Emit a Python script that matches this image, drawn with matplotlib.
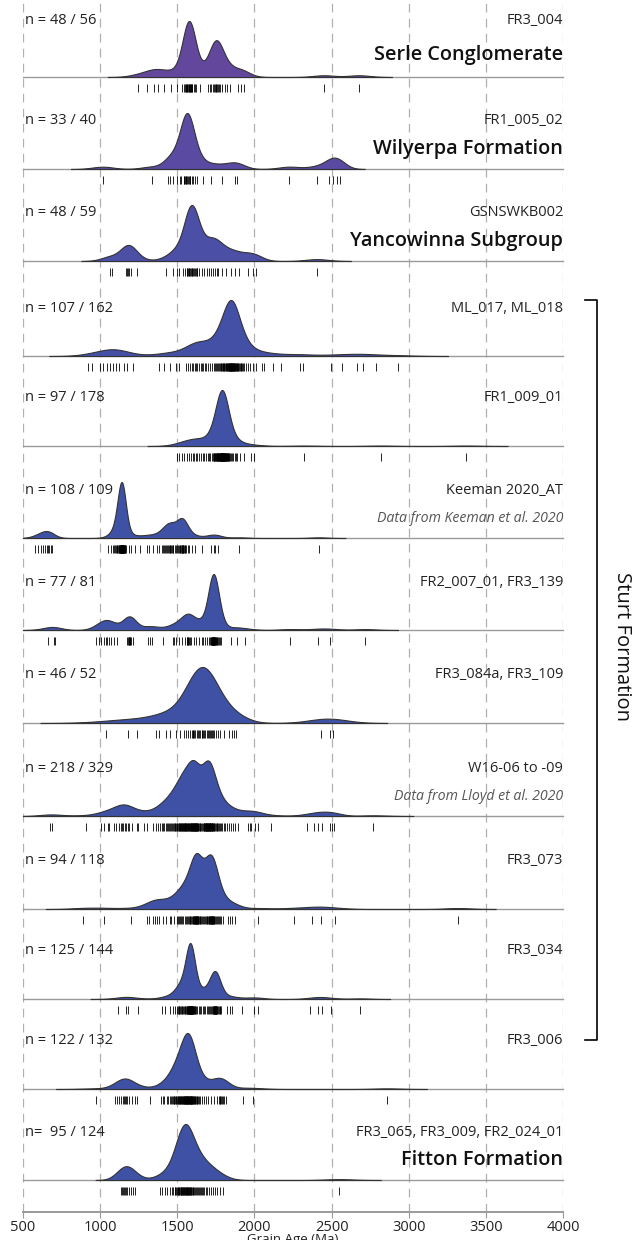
import numpy as np
import matplotlib.pyplot as plt
from matplotlib.lines import Line2D

plt.rcParams["font.family"] = ["Open Sans", "DejaVu Sans"]

# grain ages (Ma)
serle = [1245, 1306, 1350, 1372, 1413, 1460, 1500, 1530, 1541, 1550, 1556, 1559,
         1563, 1566, 1570, 1574, 1577, 1580, 1584, 1587, 1590, 1593, 1598, 1607,
         1615, 1623, 1650, 1700, 1710, 1721, 1732, 1740, 1744, 1750, 1753, 1758,
         1764, 1770, 1776, 1792, 1810, 1821, 1844, 1896, 1912, 1935, 2450, 2678]
wilyerpa = [1017, 1336, 1443, 1452, 1472, 1500, 1516, 1525, 1541, 1546, 1550,
            1554, 1557, 1566, 1570, 1575, 1580, 1584, 1593, 1602, 1615, 1629,
            1668, 1720, 1793, 1875, 1889, 2226, 2408, 2486, 2511, 2536, 2556]
yancowinna = [1062, 1078, 1167, 1175, 1179, 1190, 1200, 1242, 1427, 1472, 1495,
              1509, 1534, 1552, 1560, 1565, 1570, 1575, 1579, 1584, 1588, 1593,
              1598, 1603, 1609, 1614, 1620, 1625, 1630, 1639, 1657, 1673, 1691,
              1707, 1720, 1734, 1746, 1755, 1766, 1793, 1816, 1848, 1871, 1898,
              1960, 1991, 2007, 2404]
ml_017 = [924, 946, 999, 1017, 1046, 1067, 1083, 1103, 1119, 1156, 1172, 1210,
          1383, 1411, 1456, 1490, 1513,
          1559, 1570, 1582, 1593, 1604, 1615, 1620, 1625, 1640, 1652, 1660, 1666,
          1680, 1689, 1700, 1714, 1725, 1735, 1745, 1752, 1760, 1766, 1771, 1776,
          1781, 1786, 1790, 1794, 1798, 1802, 1806, 1810, 1814, 1818, 1821, 1824,
          1827, 1830, 1833, 1835, 1836, 1839, 1840, 1842, 1845, 1845, 1848, 1850,
          1851, 1854, 1855, 1857, 1860, 1860, 1863, 1865, 1866, 1869, 1872, 1875,
          1878, 1881, 1884, 1888, 1892, 1896, 1900, 1905, 1910, 1916, 1922, 1928,
          1934, 1945, 1957, 1973, 1990, 2007, 2048, 2064, 2121, 2169, 2294, 2315,
          2499, 2567, 2663, 2704, 2791, 2932]
fr1_009 = [1500, 1513, 1529, 1543, 1561, 1579, 1590, 1600, 1610, 1620, 1630, 1640,
           1652, 1664, 1676, 1688, 1698, 1707, 1715, 1722, 1729, 1735, 1740, 1741,
           1745, 1746, 1750, 1751, 1755, 1758, 1759, 1760, 1763, 1765, 1767, 1770,
           1772, 1773, 1775, 1776, 1778, 1779, 1780, 1781, 1782, 1783, 1784, 1785,
           1786, 1787, 1788, 1789, 1790, 1791, 1792, 1793, 1794, 1795, 1796, 1797,
           1798, 1799, 1800, 1801, 1802, 1803, 1805, 1806, 1808, 1809, 1811, 1812,
           1814, 1815, 1817, 1820, 1822, 1824, 1826, 1828, 1830, 1832, 1837, 1842,
           1848, 1855, 1863, 1871, 1880, 1889, 1907, 1935, 1975, 1998, 2322, 2818,
           3369]
keeman = [580, 598, 614, 630, 643, 655, 662, 671, 682, 691,
          1053, 1069, 1083, 1090,
          1097, 1103, 1108, 1112, 1116, 1119, 1122, 1125, 1127, 1129, 1130, 1131,
          1132, 1133, 1134, 1135, 1136, 1137, 1138, 1139, 1139, 1140, 1141, 1141,
          1142, 1143, 1143, 1144, 1145, 1145, 1146, 1147, 1148, 1149, 1150, 1152,
          1154, 1156, 1158, 1161, 1164, 1169,
          1185, 1201, 1224, 1260, 1301, 1315, 1340,
          1370, 1383, 1399, 1410, 1415, 1422, 1429, 1435, 1440, 1445, 1450, 1452,
          1458, 1463, 1470, 1475, 1486, 1490, 1497, 1505, 1509, 1515, 1520, 1525,
          1528, 1530, 1532, 1536, 1538, 1540, 1545, 1548, 1553, 1559, 1568, 1579,
          1593, 1616, 1661, 1720, 1736, 1745, 1764, 1900, 2417]
fr2_007 = [659, 698, 705, 974, 992, 1008, 1024, 1035, 1046, 1058, 1069, 1087, 1110,
           1174, 1182, 1185, 1188, 1190, 1192, 1196, 1202, 1210, 1308, 1320, 1333,
           1406, 1470, 1479, 1493, 1513, 1532, 1548, 1561, 1565, 1568, 1572, 1575,
           1580, 1586, 1609, 1620, 1643, 1657, 1666, 1680, 1695, 1705, 1712, 1718,
           1720, 1722, 1725, 1726, 1728, 1729, 1730, 1731, 1732, 1733, 1734, 1735,
           1736, 1737, 1738, 1740, 1741, 1743, 1744, 1746, 1748, 1750, 1755, 1760,
           1766, 1772, 1778, 1784, 1850, 1884, 1939, 2230, 2413, 2490, 2718]
fr3_084a = [1037, 1179, 1242, 1363, 1381, 1427, 1456, 1493, 1520, 1545, 1559, 1570,
            1582, 1593, 1600, 1604, 1610, 1616, 1627, 1635, 1642, 1650, 1658, 1660,
            1666, 1672, 1677, 1690, 1700, 1707, 1712, 1718, 1724, 1730, 1741, 1752,
            1766, 1775, 1800, 1834, 1853, 1868, 1882, 2431, 2488, 2508]
w16 = [678, 689, 910, 1006, 1024, 1051, 1060, 1092, 1106, 1119, 1133, 1144, 1150,
       1160, 1170, 1180, 1190, 1206, 1238, 1247, 1286, 1302, 1343, 1365, 1374,
       1388, 1398, 1408, 1416, 1424, 1432, 1440, 1447, 1454, 1460, 1466, 1472,
       1477, 1482, 1487, 1492, 1496, 1500, 1504, 1508, 1512, 1516, 1520, 1523,
       1526, 1529, 1532, 1535, 1538, 1541, 1544, 1547, 1550, 1553, 1556, 1559,
       1562, 1565, 1568, 1571, 1574, 1577, 1580, 1583, 1586, 1589, 1592, 1594,
       1596, 1598, 1600, 1602, 1604, 1606, 1608, 1610, 1612, 1614, 1616, 1618,
       1620, 1622, 1624, 1626, 1628, 1631, 1634, 1637, 1641, 1645, 1650, 1656,
       1662, 1666, 1670, 1673, 1676, 1679, 1681, 1683, 1685, 1687, 1689, 1691,
       1693, 1695, 1697, 1699, 1701, 1703, 1705, 1707, 1709, 1711, 1713, 1715,
       1717, 1720, 1722, 1724, 1726, 1728, 1730, 1733,
       1736, 1740, 1745, 1750, 1755, 1760, 1766, 1772, 1778,
       1785, 1792, 1800, 1810, 1821, 1835, 1848, 1862, 1875, 1894,
       1957, 1969, 1980, 2003, 2021, 2105, 2340, 2385, 2413, 2440, 2490, 2504,
       2515, 2770]
fr3_073 = [892, 1024, 1201, 1302, 1315, 1343, 1356, 1370, 1383, 1406, 1430, 1450,
           1461, 1480, 1497, 1505, 1513, 1520, 1525, 1532, 1540, 1548, 1555, 1562,
           1568, 1574, 1580, 1585, 1590, 1595, 1600, 1604, 1608, 1610, 1612, 1616,
           1618, 1620, 1622, 1624, 1626, 1626, 1628, 1630, 1632, 1634, 1636, 1640,
           1645, 1650, 1656, 1662, 1668, 1674, 1680, 1685, 1690, 1695, 1700, 1704,
           1706, 1708, 1712, 1714, 1716, 1718, 1720, 1722, 1724, 1726, 1728, 1730,
           1732, 1734, 1736, 1740, 1745, 1750, 1756, 1762, 1770, 1778, 1786, 1798,
           1830, 1844, 1857, 1871, 2026, 2254, 2374, 2431, 2522, 3319]
fr3_034 = [1115, 1165, 1179, 1245, 1404, 1422, 1450, 1472, 1484, 1495, 1502, 1508,
           1510, 1514, 1520, 1526, 1530, 1532, 1538, 1544, 1548, 1550, 1555, 1560,
           1564, 1565, 1568, 1570, 1571, 1572, 1574, 1575, 1576, 1577, 1578, 1579,
           1580, 1581, 1582, 1583, 1584, 1585, 1586, 1587, 1588, 1589, 1590, 1591,
           1592, 1593, 1594, 1595, 1596, 1597, 1598, 1599, 1600, 1603, 1606, 1610,
           1614, 1618, 1623, 1630, 1638, 1646, 1655, 1664, 1673, 1682, 1690, 1698,
           1705, 1712, 1718, 1724, 1729, 1733, 1737, 1738, 1740, 1741, 1743, 1744,
           1746, 1747, 1749, 1750, 1752, 1753, 1755, 1759, 1763, 1768, 1774, 1780,
           1786, 1821, 1839, 1855, 1919, 1998, 2021, 2363, 2413, 2440, 2499, 2686]
fr3_006 = [971, 1095, 1108, 1122, 1135, 1148, 1155, 1161, 1168, 1175, 1188, 1204,
           1228, 1241, 1320, 1394, 1405, 1415, 1431, 1440, 1450, 1458, 1465, 1470,
           1476, 1480, 1485, 1490, 1494, 1498, 1502, 1506, 1510, 1513, 1516, 1520,
           1523, 1526, 1529, 1532, 1535, 1538, 1541, 1543, 1546, 1548, 1550, 1552,
           1554, 1556, 1558, 1560, 1562, 1564, 1566, 1568, 1570, 1572, 1574, 1576,
           1578, 1580, 1582, 1584, 1586, 1588, 1590, 1592, 1594, 1596, 1598, 1600,
           1603, 1606, 1609, 1612, 1616, 1620, 1625, 1630, 1636, 1642, 1650, 1660,
           1670, 1685, 1700, 1720, 1740, 1758, 1768, 1775, 1780, 1785, 1790, 1795,
           1802, 1815, 1929, 1992, 2860]
fitton = [1135, 1142, 1148, 1155, 1161, 1168, 1175, 1188, 1198, 1212, 1228,
          1389, 1399, 1418, 1431, 1450, 1468, 1475, 1482, 1488, 1493, 1498, 1502,
          1506, 1510, 1514, 1518, 1521, 1524, 1527, 1530, 1533, 1536, 1539, 1542,
          1545, 1548, 1551, 1554, 1557, 1560, 1563, 1566, 1569, 1572, 1575, 1578,
          1581, 1584, 1588, 1592, 1596, 1600, 1605, 1610, 1615, 1620, 1626, 1632,
          1638, 1645, 1652, 1660, 1668, 1676, 1685, 1695, 1705, 1718, 1730, 1745,
          1760, 1778, 1796, 2548]

samples = [serle, wilyerpa, yancowinna, ml_017, fr1_009, keeman, fr2_007,
           fr3_084a, w16, fr3_073, fr3_034, fr3_006, fitton]
n_labels = ["n = 48 / 56", "n = 33 / 40", "n = 48 / 59", "n = 107 / 162",
            "n = 97 / 178", "n = 108 / 109", "n = 77 / 81", "n = 46 / 52",
            "n = 218 / 329", "n = 94 / 118", "n = 125 / 144", "n = 122 / 132",
            "n=  95 / 124"]
sample_ids = ["FR3_004", "FR1_005_02", "GSNSWKB002", "ML_017, ML_018",
              "FR1_009_01", "Keeman 2020_AT", "FR2_007_01, FR3_139",
              "FR3_084a, FR3_109", "W16-06 to -09", "FR3_073", "FR3_034",
              "FR3_006", "FR3_065, FR3_009, FR2_024_01"]
unit_names = {0: "Serle Conglomerate", 1: "Wilyerpa Formation",
              2: "Yancowinna Subgroup", 12: "Fitton Formation"}
notes = {5: "Data from Keeman et al. 2020", 8: "Data from Lloyd et al. 2020"}
x_ticks = [500, 1000, 1500, 2000, 2500, 3000, 3500, 4000]

# pilot kde bandwidth (Ma) per sample and fill colour
bandwidths = [42, 45, 45, 55, 40, 30, 40, 80, 42, 42, 32, 42, 45]
fill_colors = ["#63479d", "#5a4aa2", "#4b4fa6", "#4450a6", "#4151a6", "#3f51a5",
               "#3f51a5", "#3f51a5", "#3f51a5", "#3f51a5", "#3f51a5", "#3f51a5",
               "#3f51a5"]

# layout in pixels
W, H = 638, 1240
X0, X1 = 23, 563
baselines = [77, 169, 261, 356, 446, 538, 630, 723, 816, 909, 999, 1089, 1180]
PEAK = 56
AXIS_Y = 1212


def fig_box(left, top, width, height):
    return [left / W, 1 - (top + height) / H, width / W, height / H]


def adaptive_kde(ages, h, alpha=0.25):
    # variable bandwidth kde: sparse grains get wider kernels
    a = np.asarray(ages, float)
    pilot = np.exp(-0.5 * ((a[:, None] - a[None, :]) / h) ** 2).sum(axis=1)
    local = h * (pilot / np.exp(np.log(pilot).mean())) ** -alpha
    lo = max(500, (a - 3 * local).min())
    hi = min(4000, (a + 3 * local).max())
    grid = np.linspace(lo, hi, 1200)
    dens = (np.exp(-0.5 * ((grid[:, None] - a[None, :]) / local) ** 2)
            / local).sum(axis=1)
    return grid, dens


fig = plt.figure(figsize=(W / 100, H / 100), dpi=100)

bg = fig.add_axes(fig_box(X0, 0, X1 - X0, AXIS_Y))
bg.set_xlim(500, 4000)
bg.set_ylim(0, 1)
bg.patch.set_alpha(0)
for t in x_ticks:
    bg.axvline(t, color="#b0b0b0", lw=0.9, dashes=(7, 5), zorder=0)
bg.set_yticks([])
for side in ("top", "right", "left"):
    bg.spines[side].set_visible(False)
bg.spines["bottom"].set_color("#9a9a9a")
bg.spines["bottom"].set_linewidth(1.4)
bg.set_xticks(x_ticks)
bg.tick_params(axis="x", color="#9a9a9a", length=4, labelsize=10.5,
               labelcolor="#222222", pad=2)
fig.text((X0 + X1) / 2 / W, 1 - 1240 / H, "Grain Age (Ma)", ha="center",
         va="center", fontsize=9.5, color="#222222")

for i, ages in enumerate(samples):
    base = baselines[i]
    ax = fig.add_axes(fig_box(X0, base - PEAK, X1 - X0, PEAK))
    ax.axhline(0, color="#9a9a9a", lw=1.0, clip_on=False, zorder=1)
    grid, dens = adaptive_kde(ages, bandwidths[i])
    ax.fill_between(grid, 0, dens, facecolor=fill_colors[i], edgecolor="#333333",
                    linewidth=0.8, clip_on=False, zorder=2)
    ax.set_xlim(500, 4000)
    ax.set_ylim(0, dens.max())
    ax.axis("off")

    ax.vlines(ages, -7 / PEAK, -15 / PEAK, transform=ax.get_xaxis_transform(),
              color="black", lw=0.6, clip_on=False)

    top = 57 if i == 0 else 48
    mid = 22 if i == 0 else 20
    ax.text(2 / 540, top / PEAK, n_labels[i], transform=ax.transAxes,
            ha="left", va="center", fontsize=10.5, color="#222222")
    ax.text(1, top / PEAK, sample_ids[i], transform=ax.transAxes,
            ha="right", va="center", fontsize=10.5, color="#222222")
    if i in unit_names:
        ax.text(1, mid / PEAK, unit_names[i], transform=ax.transAxes,
                ha="right", va="center", fontsize=14.3, fontweight="semibold",
                color="#111111")
    if i in notes:
        ax.text(1, mid / PEAK, notes[i], transform=ax.transAxes, ha="right",
                va="center", fontsize=10.2, style="italic", color="#555555")

# bracket for the Sturt Formation samples
bx, btop, bbot = 597, 300, 1040
fig.add_artist(Line2D([585 / W, bx / W, bx / W, 585 / W],
                      [1 - btop / H, 1 - btop / H, 1 - bbot / H, 1 - bbot / H],
                      color="black", lw=1.2))
fig.text(622 / W, 1 - 647 / H, "Sturt Formation", rotation=270,
         ha="center", va="center", fontsize=14.5, color="#111111")

fig.savefig("out.png", dpi=100)
